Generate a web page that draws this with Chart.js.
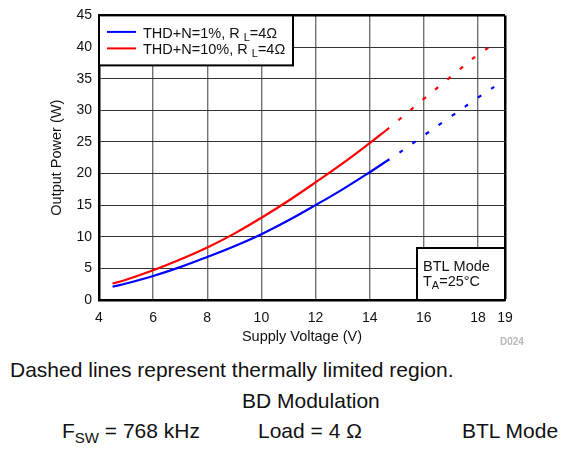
<!DOCTYPE html>
<html>
<head>
<meta charset="utf-8">
<script src="https://cdn.jsdelivr.net/npm/chart.js@4/dist/chart.umd.min.js"></script>
<style>
	html, body { margin: 0; padding: 0; background: #fff; }
	body { width: 568px; height: 456px; position: relative; overflow: hidden;
		font-family: "Liberation Sans", Arial, sans-serif; color: #111; }
	#wrap { position: absolute; left: 0; top: 0; width: 568px; height: 350px; }
	.note { position: absolute; font-size: 21px; white-space: nowrap; }
	.note sub { font-size: 15px; vertical-align: -5px; line-height: 0; }
	#code { position: absolute; left: 500px; top: 336px; font-size: 10px; font-weight: bold; color: #b8b8b8; }
</style>
</head>
<body>
<div id="wrap"><canvas id="chart" width="568" height="350"></canvas></div>
<div id="code">D024</div>
<div class="note" style="left:10px; top:358px;">Dashed lines represent thermally limited region.</div>
<div class="note" style="left:242px; top:389px;">BD Modulation</div>
<div class="note" style="left:62px; top:419px;">F<sub>SW</sub> = 768 kHz</div>
<div class="note" style="left:258px; top:419px;">Load = 4 Ω</div>
<div class="note" style="left:462px; top:419px;">BTL Mode</div>
<script>
/* Potencia de salida vs tensión de alimentación */

// tramo continuo (ambas curvas)
const voltSolid = [4.5, 5, 6, 7, 8, 9, 10, 11, 12, 13, 14, 14.6];
const thd1Solid = [2.1, 2.6, 3.8, 5.2, 6.8, 8.5, 10.4, 12.6, 15.0, 17.5, 20.2, 21.9];
const thd10Solid = [2.6, 3.2, 4.7, 6.4, 8.3, 10.5, 13.0, 15.7, 18.6, 21.6, 24.8, 26.8];

// tramo limitado térmicamente (discontinuo)
const voltDash1 = [14.6, 15, 16, 17, 18, 18.6];
const thd1Dash = [21.9, 23.0, 26.0, 29.0, 32.0, 33.7];
const voltDash10 = [14.6, 15, 16, 17, 18, 18.55];
const thd10Dash = [26.8, 28.2, 31.8, 35.3, 38.8, 40.3];

const xTicks = [4, 6, 8, 10, 12, 14, 16, 18, 19];
const legendLabels = [["THD+N=1%, R ", "L", "=4Ω"], ["THD+N=10%, R ", "L", "=4Ω"]];

const BLUE = "#0000ff";
const RED = "#ff0000";
const FONT = '"Liberation Sans", Arial, sans-serif';

function pts(xs, ys){
	return xs.map((x, i) => ({ x: x, y: ys[i] }));
}

function line(data, color, dashed){
	return {
		data: data,
		borderColor: color,
		borderWidth: 2.2,
		borderDash: dashed ? [4, 12] : [],
		pointRadius: 0,
		fill: false,
		tension: 0.4
	};
}

// leyenda y recuadro "BTL Mode" dibujados encima
const boxes = {
	id: "boxes",
	afterDraw(chart){
		const ctx = chart.ctx;
		const a = chart.chartArea;
		ctx.save();
		// leyenda
		const lx = a.left, ly = a.top, lw = 194, lh = 50;
		ctx.fillStyle = "#fff";
		ctx.fillRect(lx, ly, lw, lh);
		ctx.strokeStyle = "#000";
		ctx.lineWidth = 2;
		ctx.strokeRect(lx, ly, lw, lh);
		[BLUE, RED].forEach((c, i) => {
			const y = ly + 16.5 + i * 16.5;
			ctx.strokeStyle = c;
			ctx.lineWidth = 2;
			ctx.beginPath();
			ctx.moveTo(lx + 8, y);
			ctx.lineTo(lx + 37, y);
			ctx.stroke();
			drawSub(ctx, legendLabels[i], lx + 44, y + 6, 14.5, 11);
		});
		// recuadro BTL
		const bw = 88, bh = 52;
		const bx = a.right - bw, by = a.bottom - bh;
		ctx.fillStyle = "#fff";
		ctx.fillRect(bx, by, bw, bh);
		ctx.strokeStyle = "#000";
		ctx.lineWidth = 2;
		ctx.strokeRect(bx, by, bw, bh);
		ctx.fillStyle = "#111";
		ctx.font = "14.5px " + FONT;
		ctx.textBaseline = "alphabetic";
		ctx.fillText("BTL Mode", bx + 6, by + 23);
		drawSub(ctx, ["T", "A", "=25°C"], bx + 6, by + 38, 14.5, 11);
		ctx.restore();
	}
};

function drawSub(ctx, parts, x, y, big, small){
	ctx.fillStyle = "#111";
	ctx.textBaseline = "alphabetic";
	ctx.font = big + "px " + FONT;
	ctx.fillText(parts[0], x, y);
	x += ctx.measureText(parts[0]).width;
	ctx.font = small + "px " + FONT;
	ctx.fillText(parts[1], x, y + 3);
	x += ctx.measureText(parts[1]).width;
	ctx.font = big + "px " + FONT;
	ctx.fillText(parts[2], x, y);
}

Chart.defaults.font.family = FONT;
Chart.defaults.color = "#111";

new Chart(document.getElementById("chart").getContext("2d"), {
	type: "line",
	data: {
		datasets: [
			line(pts(voltSolid, thd1Solid), BLUE, false),
			line(pts(voltDash1, thd1Dash), BLUE, true),
			line(pts(voltSolid, thd10Solid), RED, false),
			line(pts(voltDash10, thd10Dash), RED, true)
		]
	},
	options: {
		responsive: false,
		animation: false,
		layout: { padding: { left: 48, top: 12, right: 63, bottom: 0 } },
		plugins: { legend: { display: false }, tooltip: { enabled: false } },
		scales: {
			x: {
				type: "linear",
				min: 4,
				max: 19,
				afterBuildTicks: s => { s.ticks = xTicks.map(v => ({ value: v })); },
				afterFit: s => { s.height = 50; },
				ticks: { font: { size: 14 }, padding: 10, autoSkip: false },
				grid: {
					drawTicks: false,
					color: ctx => ctx.tick && ctx.tick.value === 19 ? "#000" : "rgba(0,0,0,0.55)",
					lineWidth: ctx => ctx.tick && ctx.tick.value === 19 ? 2.5 : 1.4
				},
				border: { color: "#000", width: 2.5 },
				title: { display: true, text: "Supply Voltage (V)", font: { size: 14.5 }, padding: { top: 0, bottom: 4 } }
			},
			y: {
				min: 0,
				max: 45,
				ticks: { stepSize: 5, font: { size: 14 }, padding: 7 },
				afterFit: s => { s.width = 51; },
				grid: {
					drawTicks: false,
					color: ctx => ctx.tick && ctx.tick.value === 45 ? "#000" : "#333",
					lineWidth: ctx => ctx.tick && ctx.tick.value === 45 ? 2.5 : 1
				},
				border: { color: "#000", width: 2.5 },
				title: { display: true, text: "Output Power (W)", font: { size: 14.5 }, padding: { top: 0, bottom: 0 } }
			}
		}
	},
	plugins: [boxes]
});
</script>
</body>
</html>
